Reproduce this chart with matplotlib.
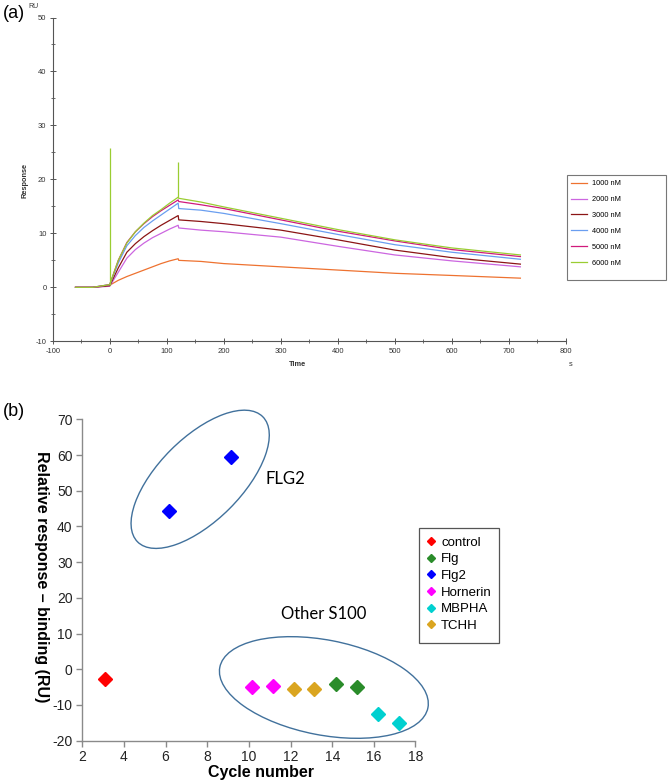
import matplotlib.pyplot as plt
from matplotlib.patches import Ellipse, Rectangle
from matplotlib.transforms import ScaledTranslation
from matplotlib.ticker import MultipleLocator

plt.rcParams['font.family'] = ['Liberation Sans', 'DejaVu Sans']
plt.rcParams['axes.unicode_minus'] = False

# ---- (a) sensorgram data ----
time = [-60, -30, 0, 15, 30, 45, 60, 75, 90, 105, 120, 121, 160, 200, 300, 400, 500, 600, 720]
conc_labels = ['1000 nM', '2000 nM', '3000 nM', '4000 nM', '5000 nM', '6000 nM']
resp_1000 = [0, 0, 0.4, 1.3, 2.0, 2.6, 3.2, 3.8, 4.4, 4.9, 5.3, 5.0, 4.8, 4.4, 3.8, 3.2, 2.6, 2.2, 1.7]
resp_2000 = [0, 0, 0.2, 2.8, 5.4, 7.0, 8.2, 9.2, 10.0, 10.8, 11.5, 11.0, 10.6, 10.3, 9.3, 7.6, 6.0, 4.9, 3.8]
resp_3000 = [0, 0, 0.3, 3.6, 6.5, 8.1, 9.4, 10.5, 11.5, 12.4, 13.3, 12.5, 12.2, 11.8, 10.6, 8.8, 6.9, 5.5, 4.3]
resp_4000 = [0, 0, 0.5, 4.5, 7.7, 9.6, 11.1, 12.3, 13.4, 14.5, 15.6, 14.6, 14.3, 13.7, 11.8, 9.8, 7.9, 6.5, 5.2]
resp_5000 = [0, 0, 0.5, 5.0, 8.3, 10.3, 11.8, 13.1, 14.2, 15.2, 16.2, 15.9, 15.3, 14.6, 12.5, 10.4, 8.6, 7.0, 5.7]
resp_6000 = [0, 0, 0.5, 5.0, 8.2, 10.3, 11.9, 13.3, 14.4, 15.6, 16.7, 16.5, 15.8, 14.9, 12.8, 10.7, 8.8, 7.3, 6.0]
spike_t = [0, 120]
spike_base = [0.5, 16.7]
spike_top = [25.8, 23.3]
curve_colors = ['#EE7230', '#CC66E0', '#8B1515', '#6A9EF0', '#D01A7C', '#9ACD32']

# ---- (b) binding data ----
groups = ['control', 'Flg', 'Flg2', 'Hornerin', 'MBPHA', 'TCHH']
cycle_control, rel_control = [3.1], [-2.7]
cycle_flg, rel_flg = [14.2, 15.2], [-4.0, -5.1]
cycle_flg2, rel_flg2 = [6.15, 9.15], [44.2, 59.5]
cycle_hornerin, rel_hornerin = [10.15, 11.15], [-4.9, -4.7]
cycle_mbpha, rel_mbpha = [16.2, 17.2], [-12.5, -15.1]
cycle_tchh, rel_tchh = [12.15, 13.15], [-5.4, -5.6]
group_colors = ['#FF0000', '#2A8C2A', '#0000FF', '#FF00FF', '#00D0D0', '#DAA520']

W, H = 669, 783
fig = plt.figure(figsize=(W / 100, H / 100), dpi=100)


def fx(px):
    return px / W


def fy(py):
    return 1 - py / H


# ================= (a) =================
ax1 = fig.add_axes([fx(52.7), fy(341.3), (566 - 52.7) / W, (341.3 - 17.5) / H])
curves = [resp_1000, resp_2000, resp_3000, resp_4000, resp_5000, resp_6000]
for lab, vals, col in zip(conc_labels, curves, curve_colors):
    ax1.plot(time, vals, color=col, lw=0.9, label=lab)
ax1.vlines(spike_t, spike_base, spike_top, color=curve_colors[5], lw=0.9)

ax1.set_xlim(-100, 800)
ax1.set_ylim(-10, 50)
ax1.xaxis.set_major_locator(MultipleLocator(100))
ax1.xaxis.set_minor_locator(MultipleLocator(50))
ax1.yaxis.set_major_locator(MultipleLocator(10))
ax1.yaxis.set_minor_locator(MultipleLocator(5))
for s in ['top', 'right']:
    ax1.spines[s].set_visible(False)
for s in ['left', 'bottom']:
    ax1.spines[s].set_color('#555555')
    ax1.spines[s].set_linewidth(0.8)
ax1.tick_params(which='major', direction='inout', length=5, width=0.7, color='#555555',
                labelsize=5.5, labelcolor='#333333', pad=2)
ax1.tick_params(which='minor', direction='inout', length=3, width=0.6, color='#555555')

fig.text(fx(25), fy(180), 'Response', rotation=90, ha='center', va='center',
         fontsize=5.3, fontweight='bold', color='#333333')
fig.text(fx(298), fy(364), 'Time', ha='center', va='center', fontsize=5.3,
         fontweight='bold', color='#333333')
fig.text(fx(571), fy(364), 's', ha='center', va='center', fontsize=5.3, color='#333333')
fig.text(fx(33), fy(6), 'RU', ha='center', va='center', fontsize=5, color='#333333')
fig.text(fx(3), fy(13), '(a)', ha='left', va='center', fontsize=13)

fig.patches.append(Rectangle((fx(567), fy(280)), (666 - 567) / W, (280 - 175) / H,
                             transform=fig.transFigure, fill=False,
                             edgecolor='#777777', lw=0.8))
h1, l1 = ax1.get_legend_handles_labels()
fig.legend(h1, l1, loc='upper left', bbox_to_anchor=(fx(569), fy(178)),
           frameon=False, fontsize=5.3, handlelength=2.2, handletextpad=0.6,
           labelspacing=1.18, borderaxespad=0, borderpad=0.3)

# ================= (b) =================
ax2 = fig.add_axes([fx(82.3), fy(740.7), (415.5 - 82.3) / W, (740.7 - 419.3) / H])
xs = [cycle_control, cycle_flg, cycle_flg2, cycle_hornerin, cycle_mbpha, cycle_tchh]
ys = [rel_control, rel_flg, rel_flg2, rel_hornerin, rel_mbpha, rel_tchh]
for g, x, y, c in zip(groups, xs, ys, group_colors):
    ax2.plot(x, y, linestyle='none', marker='D', markersize=7.5, color=c, label=g)

ax2.set_xlim(2, 18)
ax2.set_ylim(-20, 70)
ax2.xaxis.set_major_locator(MultipleLocator(2))
ax2.yaxis.set_major_locator(MultipleLocator(10))
for s in ['top', 'right']:
    ax2.spines[s].set_visible(False)
for s in ['left', 'bottom']:
    ax2.spines[s].set_color('#8a8a8a')
    ax2.spines[s].set_linewidth(1.0)
ax2.tick_params(direction='out', length=4, width=1.0, color='#8a8a8a',
                labelsize=10, labelcolor='#222222', pad=3)

fig.text(fx(41), fy(577), 'Relative response \u2013 binding (RU)', rotation=-90,
         ha='center', va='center', fontsize=11.5, fontweight='bold')
fig.text(fx(261), fy(772), 'Cycle number', ha='center', va='center',
         fontsize=11.5, fontweight='bold')
fig.text(fx(3), fy(412), '(b)', ha='left', va='center', fontsize=13)

# group outlines
ell_flg2 = Ellipse((0, 0), 1.77, 0.83, angle=45, fill=False, edgecolor='#41719C', lw=1.0,
                   transform=fig.dpi_scale_trans + ScaledTranslation(7.66, 53.2, ax2.transData),
                   clip_on=False)
ell_other = Ellipse((0, 0), 2.12, 0.95, angle=-11, fill=False, edgecolor='#41719C', lw=1.0,
                    transform=fig.dpi_scale_trans + ScaledTranslation(13.6, -5.1, ax2.transData),
                    clip_on=False)
ax2.add_patch(ell_flg2)
ax2.add_patch(ell_other)
ax2.text(10.8, 53.2, 'FLG2', ha='left', va='center', fontsize=12, family=['Lato', 'DejaVu Sans'])
ax2.text(13.6, 15.5, 'Other S100', ha='center', va='center', fontsize=12,
         family=['Lato', 'DejaVu Sans'])

fig.patches.append(Rectangle((fx(419), fy(643)), (499 - 419) / W, (643 - 528) / H,
                             transform=fig.transFigure, fill=False,
                             edgecolor='#555555', lw=0.9))
h2, l2 = ax2.get_legend_handles_labels()
fig.legend(h2, l2, loc='upper left', bbox_to_anchor=(fx(424), fy(534)),
           frameon=False, fontsize=9.5, markerscale=0.55, handlelength=0.6,
           handletextpad=0.5, labelspacing=0.33, borderaxespad=0, borderpad=0.2)

fig.savefig('out.png', dpi=100)
